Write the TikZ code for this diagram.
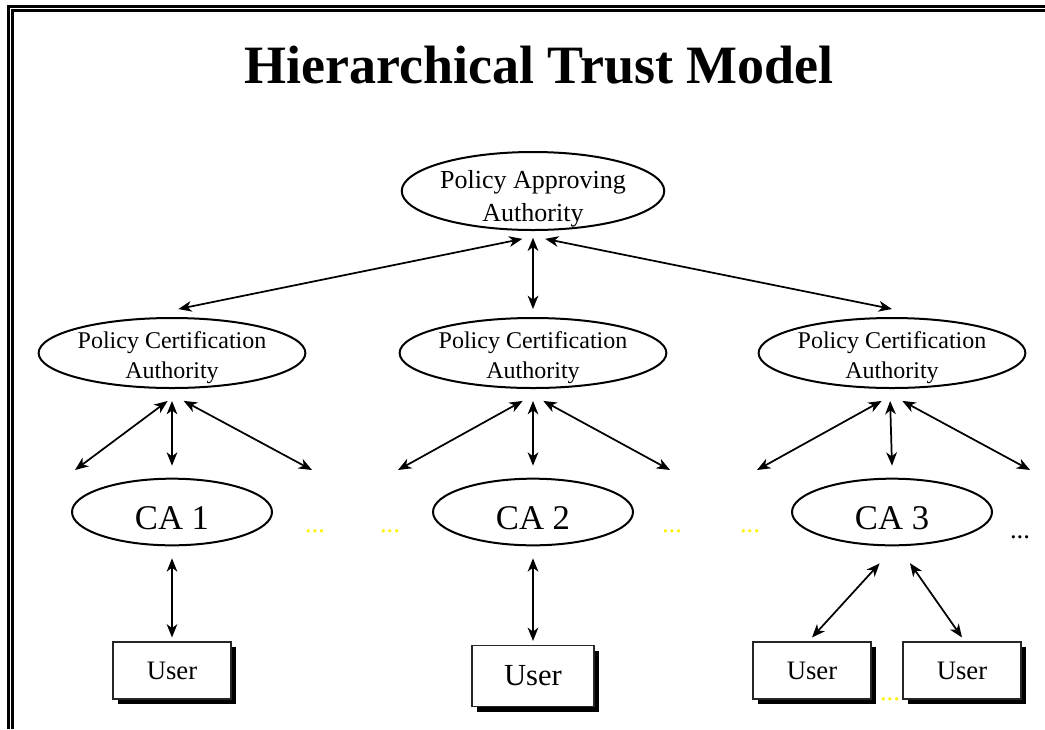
\documentclass[tikz,border=0pt]{standalone}
\usepackage{fontspec}
\setmainfont{Liberation Serif}
\usetikzlibrary{shapes.geometric,arrows.meta,shadows}

\tikzset{
	authority/.style={draw, ellipse, line width=1.5pt, inner sep=0pt, align=center},
	userbox/.style={draw=black!85, line width=0.8pt, fill=white, rectangle, inner sep=0pt,
		minimum width=88.5pt, minimum height=42.75pt, font=\fontsize{20}{20}\selectfont,
		drop shadow={fill=black, opacity=1, shadow xshift=3.75pt, shadow yshift=-3.75pt}},
	link/.style={<->, line width=1.3pt},
	more/.style={text=yellow, inner sep=0pt, font=\fontsize{20}{20}\selectfont}
}
% strut that pushes the text a little below the middle of the ellipse
\newcommand{\lowtext}[1]{\rule{0pt}{#1}}

\begin{document}
\begin{tikzpicture}[x=0.75pt, y=-0.75pt, >={Stealth[length=10pt, width=8pt, inset=3pt]}]
				\useasboundingbox (0,0) rectangle (1045,729);

				% Double frame
				\draw[line width=2.25pt] (8.5,729) |- (1045,6.5);
				\draw[line width=2.25pt] (12.5,729) |- (1045,10.5);

				% Title
				\node[anchor=base, font=\bfseries\fontsize{40.5}{40.5}\selectfont] (title) at (539,83) {Hierarchical Trust Model};

				% Root
				\node[authority, inner ysep=-7.5pt, minimum width=196.5pt, minimum height=58.5pt, font=\fontsize{19.5}{24.75}\selectfont] (paa) at (533,191) {\lowtext{24.5pt}Policy Approving\\Authority};

				% Policy CAs
				\node[authority, inner ysep=-5.5pt, minimum width=194pt, minimum height=52.5pt, font=\fontsize{18}{22.5}\selectfont] (pca1) at (172,353) {\lowtext{20.3pt}Policy Certification\\Authority};
				\node[authority, inner ysep=-5.5pt, minimum width=194pt, minimum height=52.5pt, font=\fontsize{18}{22.5}\selectfont] (pca2) at (533,353) {\lowtext{20.3pt}Policy Certification\\Authority};
				\node[authority, inner ysep=-5.5pt, minimum width=194pt, minimum height=52.5pt, font=\fontsize{18}{22.5}\selectfont] (pca3) at (892,353) {\lowtext{20.3pt}Policy Certification\\Authority};
				\draw[link] ([yshift=-6pt]paa.-105) -- ([yshift=6pt]pca1.80);
				\draw[link] ([yshift=-5pt]paa.south) -- ([yshift=6pt]pca2.north);
				\draw[link] ([yshift=-6pt]paa.-73) -- ([yshift=6pt]pca3.north);

				% CAs
				\node[authority, minimum width=150pt, minimum height=50pt, font=\fontsize{26}{26}\selectfont] (ca1) at (172,512) {\lowtext{26.6pt}CA 1};
				\node[authority, minimum width=150pt, minimum height=50pt, font=\fontsize{26}{26}\selectfont] (ca2) at (533,512) {\lowtext{26.6pt}CA 2};
				\node[authority, minimum width=150pt, minimum height=50pt, font=\fontsize{26}{26}\selectfont] (ca3) at (892,512) {\lowtext{26.6pt}CA 3};

				% Other CAs (open ends)
				\coordinate (p1l) at (75,470);
				\coordinate (p1r) at (312,470);
				\coordinate (p2l) at (398,470);
				\coordinate (p2r) at (670,470);
				\coordinate (p3l) at (757,470);
				\coordinate (p3r) at (1030,470);

				\draw[link] ([yshift=-9pt]pca1.-97) -- (p1l);
				\draw[link] ([yshift=-9pt]pca1.south) -- ([yshift=9pt]ca1.north);
				\draw[link] ([yshift=-9pt]pca1.-72) -- (p1r);
				\draw[link] ([yshift=-9pt]pca2.-106) -- (p2l);
				\draw[link] ([yshift=-9pt]pca2.south) -- ([yshift=9pt]ca2.north);
				\draw[link] ([yshift=-9pt]pca2.-74) -- (p2r);
				\draw[link] ([yshift=-9pt]pca3.-106) -- (p3l);
				\draw[link] ([yshift=-9pt]pca3.-93) -- ([yshift=9pt]ca3.north);
				\draw[link] ([yshift=-9pt]pca3.-74) -- (p3r);

				\node[more] (d1) at (315,531) {...};
				\node[more] (d2) at (390,531) {...};
				\node[more] (d3) at (672,531) {...};
				\node[more] (d4) at (750,531) {...};
				\node[more, text=black] (d5) at (1020,537) {...};

				% Users
				\node[userbox] (user1) at (172,670.5) {User};
				\node[userbox, minimum width=91.5pt, minimum height=45.75pt, font=\fontsize{23}{23}\selectfont] (user2) at (533,676) {User};
				\node[userbox] (user3a) at (812,670.5) {User};
				\node[userbox] (user3b) at (962,670.5) {User};
				\node[more] (d6) at (890,699) {...};

				\draw[link] ([yshift=-9pt]ca1.south) -- ([yshift=3pt]user1.north);
				\draw[link] ([yshift=-9pt]ca2.south) -- ([yshift=3pt]user2.north);
				\draw[link] ([yshift=-13pt]ca3.-110) -- ([yshift=3pt]user3a.north);
				\draw[link] ([yshift=-13pt]ca3.-62) -- ([yshift=3pt]user3b.north);
			\end{tikzpicture}
\end{document}
